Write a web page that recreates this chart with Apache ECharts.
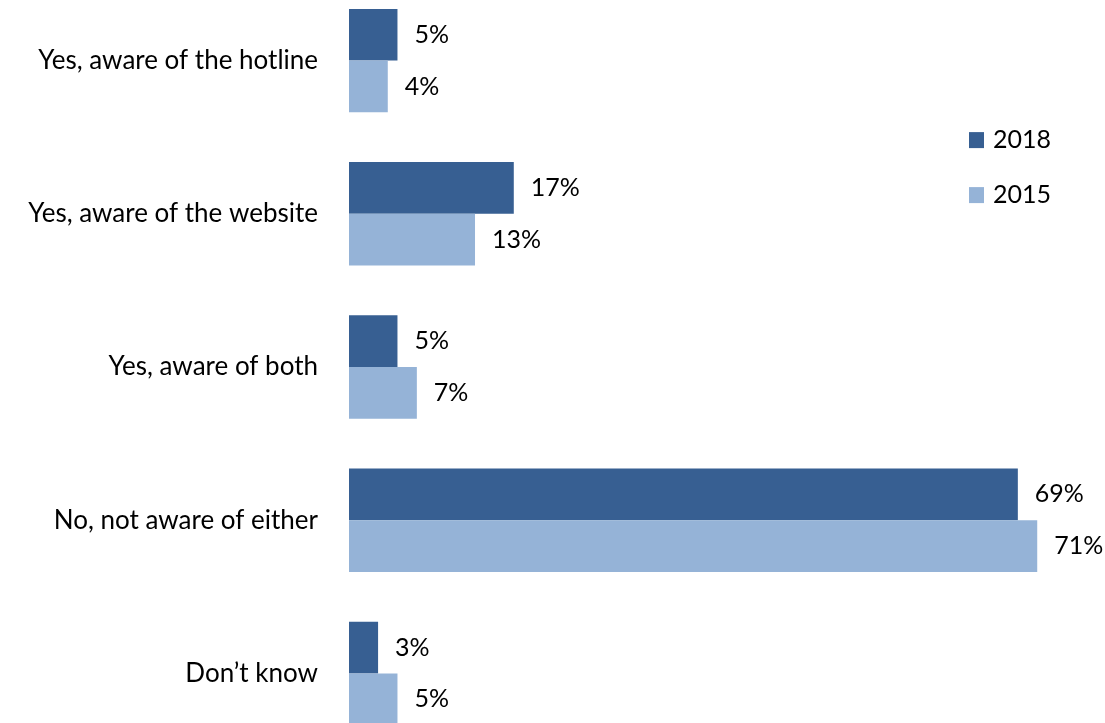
<!DOCTYPE html>
<html>
<head>
<meta charset="utf-8">
<script src="https://cdn.jsdelivr.net/npm/echarts@6/dist/echarts.min.js"></script>
<style>
  html, body { margin: 0; padding: 0; background: #fff; overflow: hidden; }
  #wrap { position: relative; width: 1105px; height: 723px; overflow: hidden; }
  /* The plot bands run past the top and bottom edges of the page */
  #chart { position: absolute; left: 0; top: -15.6px; width: 1105px; height: 766.2px; }
</style>
</head>
<body>
<div id="wrap"><div id="chart"></div></div>
<script>
// Awareness of the hotline / website, by survey year (percent)
const categories = [
  'Yes, aware of the hotline',
  'Yes, aware of the website',
  'Yes, aware of both',
  'No, not aware of either',
  'Don\u2019t know'
];
const seriesNames = ['2018', '2015'];
const values2018 = [5, 17, 5, 69, 3];
const values2015 = [4, 13, 7, 71, 5];

const colors = ['#375F92', '#95B3D7'];
const FONT = 'Lato, "Open Sans", sans-serif';
const SHIFT = 15.6;

const chart = echarts.init(document.getElementById('chart'), null, { renderer: 'canvas' });

const labelStyle = {
  show: true,
  position: 'right',
  distance: 17,
  formatter: p => p.value + '%',
  color: '#000',
  fontFamily: FONT,
  fontSize: 25
};

chart.setOption({
  animation: false,
  backgroundColor: '#fff',
  legend: {
    orient: 'vertical',
    left: 964,
    top: 123 + SHIFT,
    itemWidth: 15,
    itemHeight: 16,
    itemGap: 30,
    icon: 'rect',
    textStyle: { color: '#000', fontFamily: FONT, fontSize: 25, padding: [0, 0, 0, 4] },
    data: seriesNames
  },
  grid: {
    left: 349,
    right: 29,
    top: 0,
    bottom: 0,
    containLabel: false
  },
  xAxis: {
    type: 'value',
    min: 0,
    max: 75,
    show: false
  },
  yAxis: {
    type: 'category',
    inverse: true,
    data: categories,
    axisLine: { show: false },
    axisTick: { show: false },
    splitLine: { show: false },
    axisLabel: {
      margin: 31,
      color: '#000',
      fontFamily: FONT,
      fontSize: 26,
      padding: [4, 0, 0, 0]
    }
  },
  series: [
    {
      name: seriesNames[0],
      type: 'bar',
      data: values2018,
      itemStyle: { color: colors[0] },
      barGap: '0%',
      barCategoryGap: '32.5%',
      label: labelStyle
    },
    {
      name: seriesNames[1],
      type: 'bar',
      data: values2015,
      itemStyle: { color: colors[1] },
      barGap: '0%',
      barCategoryGap: '32.5%',
      label: labelStyle
    }
  ]
});
</script>
</body>
</html>
